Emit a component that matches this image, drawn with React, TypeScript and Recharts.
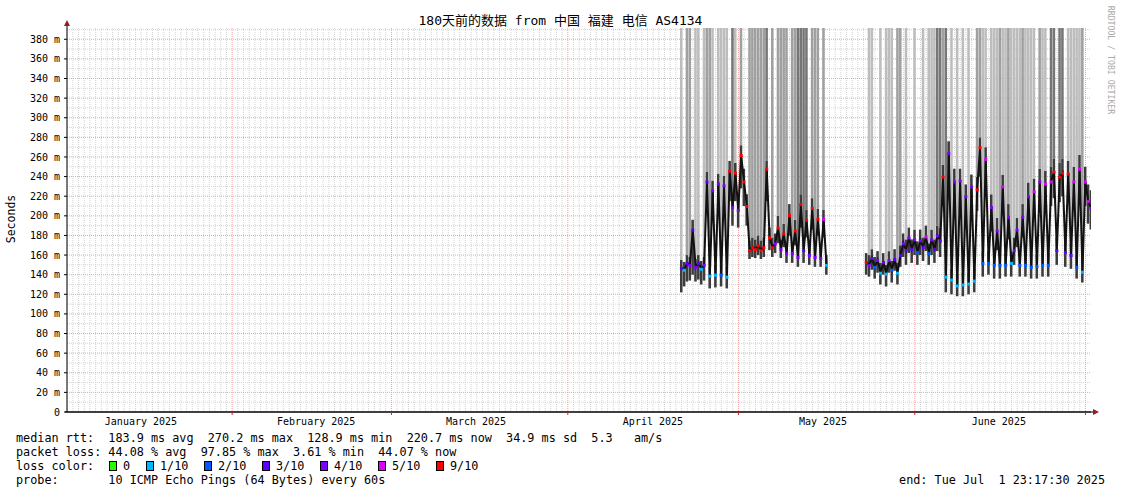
import React from 'react';
import { ComposedChart, Bar, Line, XAxis, YAxis, CartesianGrid, Cell, ReferenceDot } from 'recharts';

const MONO = '"DejaVu Sans Mono", "Noto Sans CJK SC", monospace';

// loss classes (smokeping colours)
const lossColors = ['#26ff00', '#00b8ff', '#0059ff', '#5e00ff', '#7e00ff', '#dd00ff', '#ff0000'];
const lossLabels = ['0', '1/10', '2/10', '3/10', '4/10', '5/10', '9/10'];
const smokeShades = ['none', '#bdbdbd', '#a0a0a0', '#767676'];

const monthLabels = ['January 2025', 'February 2025', 'March 2025', 'April 2025', 'May 2025', 'June 2025'];
const monthMids = [13.0, 43.8, 71.9, 103.0, 132.9, 163.8];
const monthStarts = [29.03, 57.03, 88.03, 118.03, 149.03, 179.03];
const yTicks = [0, 20, 40, 60, 80, 100, 120, 140, 160, 180, 200, 220, 240, 260, 280, 300, 320, 340, 360, 380];

const Y_TOP = 391.5;
const STEP = 0.5; // days per row

// first block of data (days since start)
const p1Start = 108.0;
const p1Median = [147, 145, 152, 150, 186, 148, 152, 146, 150, 235, 139, 226, 140, 233, 140, 231, 138, 246, 209, 244, 206, 262, 235, 210, 165, 168, 166, 170, 165, 168, 248, 178, 168, 172, 188, 166, 182, 162, 201, 162, 185, 158, 212, 165, 196, 160, 208, 158, 197, 157, 197, 150];
const p1Low = [122, 128, 133, 134, 140, 133, 135, 130, 134, 205, 126, 200, 127, 205, 128, 205, 126, 215, 190, 215, 188, 228, 210, 190, 156, 158, 157, 160, 156, 158, 215, 165, 158, 162, 172, 157, 168, 152, 180, 152, 170, 148, 188, 152, 178, 150, 186, 148, 180, 148, 178, 140];
const p1High = [155, 153, 160, 158, 196, 156, 160, 154, 158, 245, 148, 236, 150, 243, 150, 241, 148, 256, 222, 254, 218, 272, 248, 222, 175, 178, 176, 180, 175, 178, 256, 188, 178, 182, 200, 176, 192, 172, 212, 172, 196, 168, 222, 176, 206, 170, 218, 168, 207, 166, 206, 160];
const p1Smoke = [1, 0, 2, 2, 0, 1, 1, 0, 1, 2, 2, 1, 0, 1, 1, 1, 1, 0, 3, 1, 0, 2, 0, 0, 2, 2, 2, 2, 2, 2, 3, 0, 2, 0, 2, 2, 2, 2, 0, 2, 2, 3, 3, 3, 3, 0, 2, 2, 2, 0, 2, 0];
const p1Loss = [3, 1, 3, 4, 3, 4, 3, 1, 4, 3, 1, 4, 1, 4, 2, 4, 1, 6, 4, 6, 4, 6, 6, 6, 6, 6, 6, 6, 6, 6, 6, 6, 6, 4, 6, 4, 6, 4, 6, 4, 6, 4, 6, 3, 6, 4, 6, 4, 6, 4, 5, 1];

// second block
const p2Start = 140.5;
const p2Median = [153, 150, 157, 148, 155, 142, 153, 141, 155, 145, 156, 142, 160, 172, 165, 178, 166, 176, 163, 175, 168, 179, 162, 176, 166, 180, 175, 240, 138, 264, 135, 235, 129, 236, 130, 220, 131, 230, 134, 227, 270, 152, 258, 152, 209, 150, 185, 150, 230, 150, 199, 152, 165, 186, 150, 199, 150, 220, 148, 225, 149, 235, 150, 233, 150, 235, 245, 165, 240, 244, 163, 243, 160, 235, 148, 248, 143, 235, 215, 208];
const p2Low = [140, 138, 145, 136, 142, 130, 140, 128, 142, 132, 144, 130, 148, 158, 150, 162, 152, 160, 150, 160, 154, 164, 150, 160, 152, 164, 158, 210, 122, 232, 120, 205, 118, 205, 118, 192, 120, 200, 122, 205, 240, 138, 226, 140, 184, 136, 165, 136, 202, 138, 176, 138, 150, 168, 138, 178, 138, 195, 136, 200, 136, 208, 138, 208, 138, 210, 218, 150, 214, 220, 148, 216, 146, 210, 136, 220, 132, 210, 192, 186];
const p2High = [162, 160, 166, 158, 164, 152, 162, 150, 164, 154, 166, 152, 170, 182, 176, 188, 176, 186, 174, 186, 178, 190, 172, 186, 176, 190, 188, 252, 148, 276, 146, 248, 140, 248, 142, 232, 142, 242, 146, 240, 280, 164, 270, 164, 222, 162, 198, 162, 242, 162, 212, 164, 178, 198, 162, 212, 162, 234, 160, 238, 160, 248, 162, 246, 162, 250, 258, 178, 254, 258, 176, 256, 172, 250, 160, 262, 156, 250, 232, 226];
const p2Smoke = [0, 1, 1, 0, 0, 1, 0, 1, 1, 1, 0, 2, 2, 0, 1, 0, 0, 1, 0, 0, 1, 0, 1, 1, 1, 3, 3, 2, 3, 0, 1, 0, 1, 0, 1, 0, 1, 0, 0, 2, 2, 1, 1, 0, 1, 1, 1, 2, 1, 1, 2, 1, 1, 1, 1, 2, 1, 1, 1, 1, 0, 2, 1, 1, 0, 3, 3, 0, 3, 3, 0, 1, 1, 1, 1, 1, 2, 0, 0, 0];
const p2Loss = [6, 4, 3, 2, 4, 1, 3, 1, 4, 2, 3, 1, 3, 4, 3, 4, 3, 4, 2, 4, 3, 5, 2, 4, 3, 4, 3, 6, 1, 4, 1, 4, 1, 4, 1, 4, 1, 4, 1, 6, 6, 2, 5, 2, 4, 2, 4, 2, 5, 2, 4, 1, 4, 4, 2, 4, 2, 4, 2, 5, 2, 4, 2, 5, 2, 5, 6, 3, 6, 6, 3, 6, 3, 5, 2, 5, 1, 5, 5, 4];

type Row = { t: number; med: number | null; base: number | null; dark: number | null; light: number | null; shade: number; loss: number | null };

const block = (start: number, med: number[], lo: number[], hi: number[], smoke: number[], loss: number[]): Row[] =>
  med.map((m, i) => ({
    t: start + i * STEP,
    med: m,
    base: lo[i],
    dark: hi[i] - lo[i],
    light: smoke[i] ? Y_TOP - hi[i] : 0,
    shade: smoke[i],
    loss: loss[i],
  }));

const rows: Row[] = [
  ...block(p1Start, p1Median, p1Low, p1High, p1Smoke, p1Loss),
  { t: 137, med: null, base: null, dark: null, light: null, shade: 0, loss: null },
  ...block(p2Start, p2Median, p2Low, p2High, p2Smoke, p2Loss),
];

const minorDays = Array.from({ length: 180 }, (_, k) => 0.03 + k).filter(
  (d) => !monthStarts.some((m) => Math.abs(m - d) < 0.01)
);
const minorMs = Array.from({ length: 20 }, (_, k) => 10 + k * 20);
const majorMs = yTicks.filter((v) => v > 0);
const xTicks = [...monthMids, ...monthStarts].sort((a, b) => a - b);

const MonthTick = (props: any) => {
  const { x, y, payload } = props;
  const v = payload.value;
  const mid = monthMids.indexOf(v);
  if (mid >= 0) {
    return (
      <text x={x} y={y + 12.5} textAnchor="middle" fontSize={10} fontFamily={MONO} fill="#000">
        {monthLabels[mid]}
      </text>
    );
  }
  return <line x1={x} y1={y} x2={x} y2={y + 3} stroke="#d02020" />;
};

const LossDot = (props: any) => {
  const { cx, cy, payload, index } = props;
  if (cx == null || cy == null || payload == null || payload.loss == null) return <g key={index} />;
  return <rect key={index} x={cx - 1.5} y={cy - 1} width={3} height={3} fill={lossColors[payload.loss]} />;
};

const UpArrow = (p: any) => (
  <g>
    <line x1={p.cx} y1={p.cy} x2={p.cx} y2={p.cy - 5} stroke="#000" />
    <path d={`M${p.cx - 3},${p.cy - 2} L${p.cx + 3},${p.cy - 2} L${p.cx},${p.cy - 8} Z`} fill="#9b1b1b" />
  </g>
);

const RightArrow = (p: any) => (
  <g>
    <line x1={p.cx - 1026} y1={p.cy} x2={p.cx + 4} y2={p.cy} stroke="#000" />
    <path d={`M${p.cx + 2},${p.cy - 3} L${p.cx + 2},${p.cy + 3} L${p.cx + 8},${p.cy} Z`} fill="#9b1b1b" />
  </g>
);

const txt: React.CSSProperties = {
  position: 'absolute',
  fontFamily: MONO,
  fontSize: 11.8,
  lineHeight: '14px',
  whiteSpace: 'pre',
  color: '#000',
};

const boxX = [109, 146, 204, 262, 320, 378, 436];

export default function App() {
  return (
    <div style={{ position: 'absolute', left: 0, top: 0, width: 1121, height: 494, background: '#fff', overflow: 'hidden' }}>
      <ComposedChart width={1121} height={494} data={rows} margin={{ top: 28, right: 30, bottom: 58, left: 0 }}>
        <CartesianGrid
          xAxisId="time"
          horizontalValues={minorMs}
          verticalValues={minorDays}
          stroke="#d4d4d4"
          strokeDasharray="1 1"
        />
        <CartesianGrid
          xAxisId="time"
          horizontalValues={majorMs}
          verticalValues={monthStarts}
          stroke="#eca4a4"
          strokeDasharray="1 1"
        />
        <XAxis
          xAxisId="time"
          type="number"
          dataKey="t"
          domain={[0, 180]}
          allowDataOverflow
          ticks={xTicks}
          interval={0}
          tick={MonthTick}
          tickSize={0}
          tickMargin={0}
          tickLine={false}
          axisLine={{ stroke: '#000' }}
          height={24}
        />
        <YAxis
          type="number"
          domain={[0, Y_TOP]}
          allowDataOverflow
          ticks={yTicks}
          interval={0}
          tickFormatter={(v: number) => (v === 0 ? '0' : `${v} m`)}
          width={67}
          tickSize={3}
          tickMargin={4}
          tickLine={{ stroke: '#000' }}
          axisLine={{ stroke: '#000' }}
          tick={{ fontSize: 10, fontFamily: MONO, fill: '#000' }}
        />
        <Bar xAxisId="time" dataKey="base" stackId="s" fill="transparent" barSize={3} isAnimationActive={false} />
        <Bar xAxisId="time" dataKey="dark" stackId="s" fill="#3c3c3c" barSize={3} isAnimationActive={false} />
        <Bar xAxisId="time" dataKey="light" stackId="s" barSize={3} isAnimationActive={false}>
          {rows.map((r, i) => (
            <Cell key={i} fill={smokeShades[r.shade]} />
          ))}
        </Bar>
        <Line
          xAxisId="time"
          dataKey="med"
          type="linear"
          stroke="#111"
          strokeWidth={2}
          dot={LossDot}
          activeDot={false}
          connectNulls={false}
          isAnimationActive={false}
        />
        <ReferenceDot xAxisId="time" x={0} y={Y_TOP} ifOverflow="visible" shape={UpArrow} />
        <ReferenceDot xAxisId="time" x={180} y={0} ifOverflow="visible" shape={RightArrow} />
      </ComposedChart>

      <div style={{ ...txt, fontSize: 13, lineHeight: '15px', left: 0, width: 1121, top: 13, textAlign: 'center' }}>
        180天前的数据 from 中国 福建 电信 AS4134
      </div>
      <div
        style={{
          ...txt,
          fontSize: 11.5,
          left: 11,
          top: 219,
          transform: 'translate(-50%, -50%) rotate(-90deg)',
        }}
      >
        Seconds
      </div>
      <div
        style={{
          ...txt,
          fontSize: 8.2,
          lineHeight: '10px',
          color: '#aaa',
          left: 1111,
          top: 60,
          transform: 'translate(-50%, -50%) rotate(90deg)',
        }}
      >
        RRDTOOL / TOBI OETIKER
      </div>

      <div style={{ ...txt, left: 16, top: 431 }}>
        {'median rtt:  183.9 ms avg  270.2 ms max  128.9 ms min  220.7 ms now  34.9 ms sd  5.3   am/s'}
      </div>
      <div style={{ ...txt, left: 16, top: 445 }}>{'packet loss: 44.08 % avg  97.85 % max  3.61 % min  44.07 % now'}</div>
      <div style={{ ...txt, left: 16, top: 459 }}>{'loss color:'}</div>
      {lossLabels.map((l, i) => (
        <React.Fragment key={l}>
          <div
            style={{
              position: 'absolute',
              left: boxX[i],
              top: 461,
              width: 6,
              height: 8,
              background: lossColors[i],
              border: '1px solid #000',
            }}
          />
          <div style={{ ...txt, left: boxX[i] + 14, top: 459 }}>{l}</div>
        </React.Fragment>
      ))}
      <div style={{ ...txt, left: 16, top: 473 }}>{'probe:       10 ICMP Echo Pings (64 Bytes) every 60s'}</div>
      <div style={{ ...txt, right: 16, top: 473 }}>{'end: Tue Jul  1 23:17:30 2025'}</div>
    </div>
  );
}
